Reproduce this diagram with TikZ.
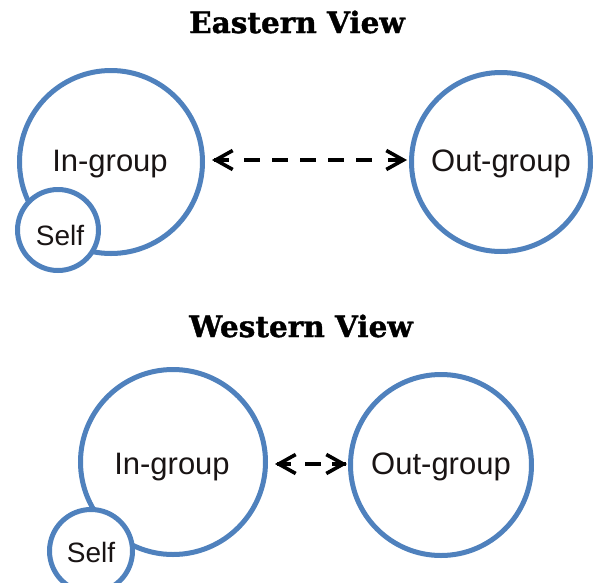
\documentclass[tikz,border=0pt]{standalone}
\usepackage{fontspec}
\setmainfont{Liberation Sans}
\newfontfamily\titlefont{DejaVu Serif}[BoldFeatures={FakeBold=1.2}]
\usetikzlibrary{arrows.meta}

\definecolor{ringblue}{RGB}{79,129,189}
\definecolor{labelink}{RGB}{25,20,20}

\begin{document}
\begin{tikzpicture}[x=1pt,y=-1pt,
  ring/.style={circle,draw=ringblue,line width=5pt,fill=white,inner sep=0pt,minimum size=#1},
  grouplabel/.style={font=\fontsize{31}{36}\selectfont,text=labelink,inner sep=0pt},
  selflabel/.style={font=\fontsize{28}{32}\selectfont,text=labelink,inner sep=0pt},
  heading/.style={font=\titlefont\bfseries\fontsize{29.5}{34}\selectfont,inner sep=0pt},
  >={Straight Barb[length=17pt,width=19pt]},
  % open chevrons at both ends
  linktips/.style={draw=black,line width=3.6pt,<->,dash pattern=on 0pt off 2000pt},
  % shaft: stubs inside the chevrons, dashes in between
  linkshaft/.style={draw=black,line width=3.4pt,dash pattern=#1}
]
\useasboundingbox (0,0) rectangle (595,582);
\clip (0,0) rectangle (595,582);

% Eastern view: the self sits inside the in-group
\node[heading] (east) at (297,22) {Eastern View};
\node[ring=183pt] (in1) at (111,162) {};
\node[ring=81pt] (self1) at (58,230) {};
\node[ring=179pt] (out1) at (501,162) {};
\node[grouplabel] (in1t) at (110,164) {In-group};
\node[selflabel] (self1t) at (60,235) {Self};
\node[grouplabel] (out1t) at (501,164) {Out-group};
\coordinate (a1) at ([yshift=2pt]in1.east);
\coordinate (b1) at (a1 -| out1.west);
\draw[linktips,shorten <=7pt,shorten >=2pt] (a1) -- (b1);
\draw[linkshaft={on 15pt off 15pt on 16pt off 12pt on 16pt off 12pt on 16pt off 12pt
    on 16pt off 12pt on 16pt off 16pt on 14pt off 100pt},
  shorten <=9pt,shorten >=5pt] (a1) -- (b1);

% Western view: the self stands apart, groups closer together
\node[heading] (west) at (301,326) {Western View};
\node[ring=185pt] (in2) at (173,462) {};
\node[ring=83pt] (self2) at (91,551) {};
\node[ring=181pt] (out2) at (441,465) {};
\node[grouplabel] (in2t) at (172,467) {In-group};
\node[selflabel] (self2t) at (91,552) {Self};
\node[grouplabel] (out2t) at (441,467) {Out-group};
\coordinate (a2) at ([yshift=-2pt]in2.east);
\coordinate (b2) at (a2 -| out2.west);
\draw[linktips,shorten <=7pt,shorten >=1pt] (a2) -- (b2);
\draw[linkshaft={on 14pt off 14pt on 16pt off 11pt on 14pt off 100pt},
  shorten <=9pt,shorten >=2pt] (a2) -- (b2);
\end{tikzpicture}
\end{document}
